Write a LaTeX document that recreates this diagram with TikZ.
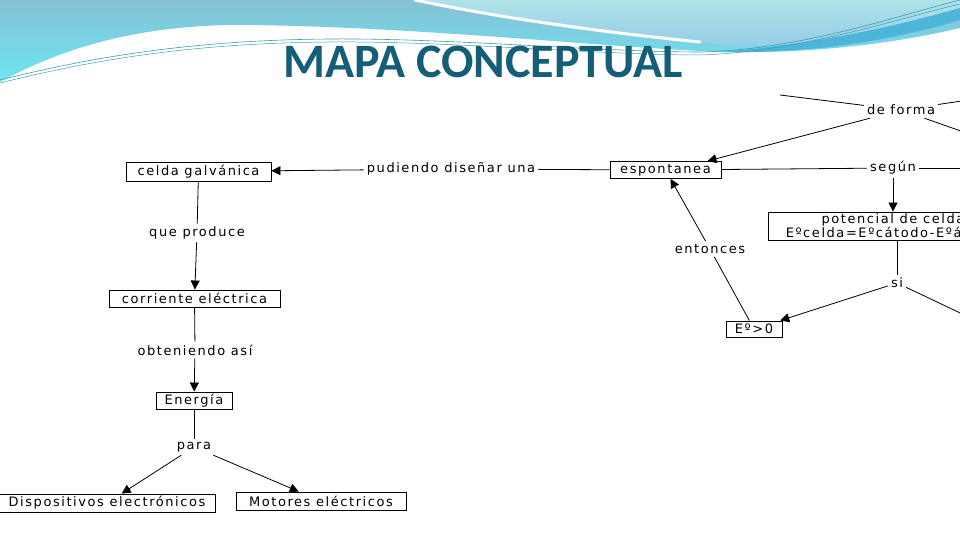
\documentclass[tikz,border=0pt]{standalone}
\usepackage{fontspec}
\setmainfont{DejaVu Sans}
\newfontfamily\titlefont{Carlito}
\newfontfamily\mapfont[LetterSpace=12]{DejaVu Sans}
\usetikzlibrary{arrows.meta,calc}
\definecolor{titlecol}{HTML}{155E78}
\definecolor{hdrtop}{HTML}{86C1D6}
\definecolor{hdrbot}{HTML}{6CE6F1}
\definecolor{lighttop}{HTML}{AEE2E8}
\definecolor{lightbot}{HTML}{96CDE8}
\definecolor{bandc}{HTML}{4DB5DA}
\definecolor{thinc}{HTML}{3C9CAE}
\begin{document}
\begin{tikzpicture}[x=1pt,y=-1pt,
  mapf/.style={font=\mapfont\fontsize{13}{13}\selectfont},
  concept/.style={mapf, draw, line width=0.9pt, inner sep=1pt, minimum height=17pt, align=center},
  link/.style={mapf, inner sep=3pt},
  ln/.style={line width=0.8pt},
  arr/.style={line width=0.8pt, -{Triangle[length=9pt,width=9pt]}}]
\useasboundingbox (0,0) rectangle (960,540);
\clip (0,0) rectangle (960,540);
% header
\shade[top color=hdrtop, bottom color=hdrbot] (0,0) -- (960,0) -- (960,28)
  .. controls (900,42) and (820,54) .. (720,52)
  .. controls (600,47) and (400,25) .. (230,25)
  .. controls (120,27) and (50,55) .. (0,82) -- cycle;
\shade[top color=lighttop, bottom color=lightbot] (420,0)
  .. controls (520,24) and (640,40) .. (740,46)
  .. controls (840,46) and (920,25) .. (960,8) -- (960,0) -- cycle;
\draw[white, line width=3pt, line cap=round] (415,0) .. controls (510,20) and (620,34) .. (700,42);
\fill[bandc] (720,52) .. controls (820,44) and (900,25) .. (960,8) -- (960,20)
  .. controls (900,38) and (820,54) .. (720,52) -- cycle;
\draw[thinc, line width=0.6pt] (0,80) .. controls (100,55) and (200,40) .. (330,39)
  .. controls (450,38) and (600,52) .. (700,52) .. controls (800,50) and (900,15) .. (960,0);
\draw[thinc, line width=0.5pt] (0,83) .. controls (100,58) and (200,43) .. (330,42)
  .. controls (450,41) and (600,55) .. (700,55) .. controls (800,52) and (900,18) .. (960,4);
\node[font=\titlefont\bfseries\fontsize{48}{48}\selectfont, text=titlecol] (title) at (483,62) {MAPA CONCEPTUAL};
% concepts
\node[concept, minimum width=145pt, minimum height=19pt] (celda) at (198.5,171.5) {celda galvánica};
\node[concept, minimum width=111pt] (esp) at (665.5,170) {espontanea};
\node[concept, minimum width=171pt] (corr) at (194.5,298.5) {corriente eléctrica};
\node[concept, minimum width=76pt] (ener) at (194,400.5) {Energía};
\node[concept, minimum width=216pt, minimum height=18pt] (disp) at (107,503) {Dispositivos electrónicos};
\node[concept, minimum width=170pt, minimum height=18pt] (mot) at (321,501) {Motores eléctricos};
\node[concept, minimum width=56pt, minimum height=16pt] (eg) at (754,329) {Eº>0};
\node[concept, minimum width=250pt, minimum height=28pt, inner sep=0pt] (pot) at (893,226) {potencial de celda\\Eºcelda=Eºcátodo-Eºánodo};
% linking phrases
\node[link] (pud) at (451,169) {pudiendo diseñar una};
\node[link] (seg) at (893,168) {según};
\node[link] (forma) at (901,110) {de forma};
\node[link] (qp) at (197,233) {que produce};
\node[link] (obt) at (195,350) {obteniendo así};
\node[link] (para) at (194,447) {para};
\node[link] (ent) at (710,249) {entonces};
\node[link] (si) at (897,283) {si};
% off-canvas ends
\coordinate (offA) at (780,95);
\coordinate (offB) at (975,99);
\coordinate (offC) at (975,136);
\coordinate (offD) at (975,168);
\coordinate (offE) at (975,320);
% connectors
\draw[ln] (pud) -- (esp);
\draw[arr] (pud) -- (celda);
\draw[ln] (esp) -- (seg);
\draw[ln] (seg) -- (offD);
\draw[arr] (seg) -- (pot);
\draw[ln] (offA) -- (forma);
\draw[ln] (forma) -- (offB);
\draw[ln] (forma) -- (offC);
\draw[arr] (forma) -- ([xshift=42pt]esp.north);
\draw[ln] (pot.south -| si) -- (si);
\draw[arr] (si) -- (eg);
\draw[ln] (si) -- (offE);
\draw[ln] (eg) -- (ent);
\draw[arr] (ent) -- (esp);
\draw[ln] (celda) -- (qp);
\draw[arr] (qp) -- (corr);
\draw[ln] (corr) -- (obt);
\draw[arr] (obt) -- (ener);
\draw[ln] (ener) -- (para);
\draw[arr] (para) -- (disp);
\draw[arr] (para) -- (mot);
\end{tikzpicture}
\end{document}
